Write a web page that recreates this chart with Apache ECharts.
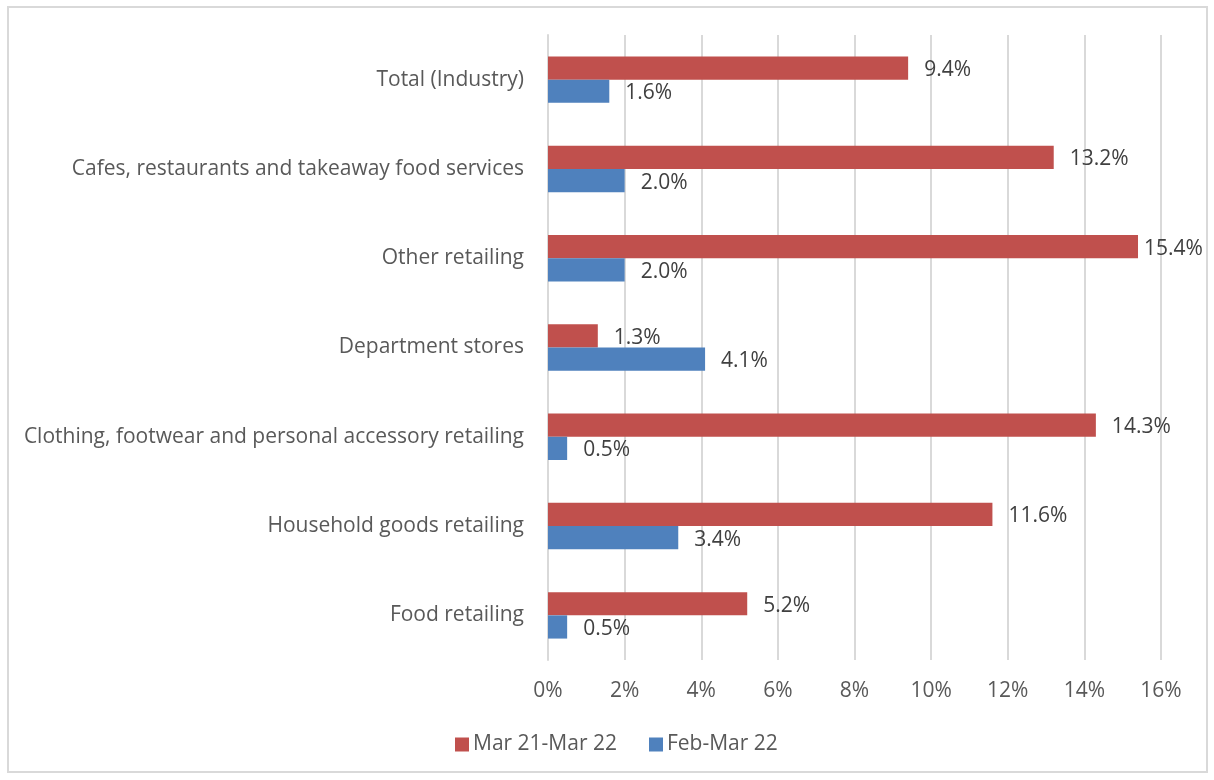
<!DOCTYPE html>
<html>
<head>
<meta charset="utf-8">
<script src="https://cdn.jsdelivr.net/npm/echarts@6/dist/echarts.min.js"></script>
<style>
  html, body { margin: 0; padding: 0; background: #fff; }
  #frame { position: absolute; left: 7px; top: 6px; width: 1201px; height: 767px; border: 2px solid #d9d9d9; box-sizing: border-box; }
  #chart { position: absolute; left: 0; top: 0; width: 1214px; height: 780px; }
</style>
</head>
<body>
<div id="frame"></div>
<div id="chart"></div>
<script>
// Categories listed top to bottom
const categories = [
  'Total (Industry)',
  'Cafes, restaurants and takeaway food services',
  'Other retailing',
  'Department stores',
  'Clothing, footwear and personal accessory retailing',
  'Household goods retailing',
  'Food retailing'
];
const seriesNames = ['Mar 21-Mar 22', 'Feb-Mar 22'];
const yearOnYear = [9.4, 13.2, 15.4, 1.3, 14.3, 11.6, 5.2];
const monthOnMonth = [1.6, 2.0, 2.0, 4.1, 0.5, 3.4, 0.5];
const xTicks = [0, 2, 4, 6, 8, 10, 12, 14, 16];

const FONT = '"Open Sans"';
const FONT_SIZE = 21;
const AXIS_MAX = xTicks[xTicks.length - 1];
const chart = echarts.init(document.getElementById('chart'), null, { renderer: 'canvas' });

const labelStyle = {
  show: true,
  position: 'right',
  distance: 16,
  offset: [0, 2],
  color: '#404040',
  fontFamily: FONT,
  fontSize: FONT_SIZE,
  formatter: p => p.value.toFixed(1) + '%'
};

// Labels near the right edge sit closer to their bar so they stay inside the frame
const withLabels = values => values.map(v => (
  v > AXIS_MAX - 1 ? { value: v, label: { distance: 6 } } : v
));

chart.setOption({
  animation: false,
  backgroundColor: 'transparent',
  grid: { left: 548, right: 53, top: 35, bottom: 120 },
  legend: {
    data: seriesNames,
    bottom: 20,
    left: 450,
    itemWidth: 14,
    itemHeight: 14,
    itemGap: 32,
    icon: 'rect',
    textStyle: { color: '#595959', fontFamily: FONT, fontSize: FONT_SIZE, padding: [0, 0, 0, -1] }
  },
  xAxis: {
    type: 'value',
    min: xTicks[0],
    max: AXIS_MAX,
    interval: 2,
    axisLine: { show: false },
    axisTick: { show: false },
    splitLine: { lineStyle: { color: '#d9d9d9', width: 2 } },
    axisLabel: {
      margin: 21,
      color: '#595959',
      fontFamily: FONT,
      fontSize: FONT_SIZE,
      formatter: v => v + '%'
    }
  },
  yAxis: {
    type: 'category',
    data: categories,
    inverse: true,
    axisLine: { show: true, lineStyle: { color: '#d9d9d9', width: 2 } },
    axisTick: { show: false },
    axisLabel: {
      margin: 24,
      padding: [4, 0, 0, 0],
      color: '#595959',
      fontFamily: FONT,
      fontSize: FONT_SIZE
    }
  },
  series: [
    {
      name: seriesNames[0],
      type: 'bar',
      data: withLabels(yearOnYear),
      barGap: '0%',
      barCategoryGap: '48%',
      itemStyle: { color: '#c0504d' },
      label: labelStyle
    },
    {
      name: seriesNames[1],
      type: 'bar',
      data: withLabels(monthOnMonth),
      barGap: '0%',
      barCategoryGap: '48%',
      itemStyle: { color: '#4f81bd' },
      label: labelStyle
    }
  ]
});
</script>
</body>
</html>
